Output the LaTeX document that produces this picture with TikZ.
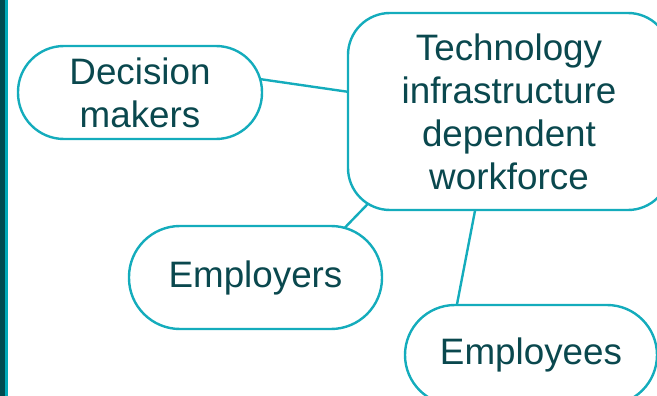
\documentclass[tikz,border=0pt]{standalone}
\usepackage{fontspec}
\setmainfont{Liberation Sans}
\usetikzlibrary{calc,backgrounds}
\definecolor{barDark}{RGB}{0,75,80}
\definecolor{barLight}{RGB}{0,170,185}
\definecolor{edgeTeal}{RGB}{20,172,188}
\definecolor{txtTeal}{RGB}{10,72,78}
\tikzset{
  bubble/.style={draw=edgeTeal, line width=2.4pt, fill=white, text=txtTeal, align=center,
    inner sep=0pt, font=\fontsize{36.8}{43}\selectfont},
  link/.style={draw=edgeTeal, line width=2.4pt}
}
\begin{document}
\begin{tikzpicture}[x=1pt,y=-1pt]
\useasboundingbox (0,0) rectangle (657,396);
\clip (0,0) rectangle (657,396);
\fill[barDark] (0,0) rectangle (5,396);
\fill[barLight] (5,0) rectangle (8,396);

\node[bubble, minimum width=244pt, minimum height=93pt, rounded corners=46pt] (dm) at (140,92.5) {Decision\\makers};
\node[bubble, minimum width=322pt, minimum height=197pt, rounded corners=42pt] (tech) at (509,111.5) {Technology\\infrastructure\\dependent\\workforce};
\node[bubble, minimum width=253pt, minimum height=103pt, rounded corners=51pt] (emp) at (255.5,277.5) {Employers};
\node[bubble, minimum width=252pt, minimum height=100pt, rounded corners=50pt] (ees) at (531,355) {Employees};

\begin{scope}[on background layer]
\coordinate (a1) at ($(dm.center)+(100,-16.3)$);
\coordinate (a2) at ($(tech.center)+(-139,-16.5)$);
\draw[link] (a1) -- (a2);
\coordinate (b1) at ($(tech.center)+(-119,69.5)$);
\coordinate (b2) at ($(emp.center)+(74.5,-34.5)$);
\draw[link] (b1) -- (b2);
\coordinate (c1) at ($(tech.center)+(-30,78.5)$);
\coordinate (c2) at ($(ees.center)+(-78,-30)$);
\draw[link] (c1) -- (c2);
\end{scope}
\end{tikzpicture}
\end{document}
